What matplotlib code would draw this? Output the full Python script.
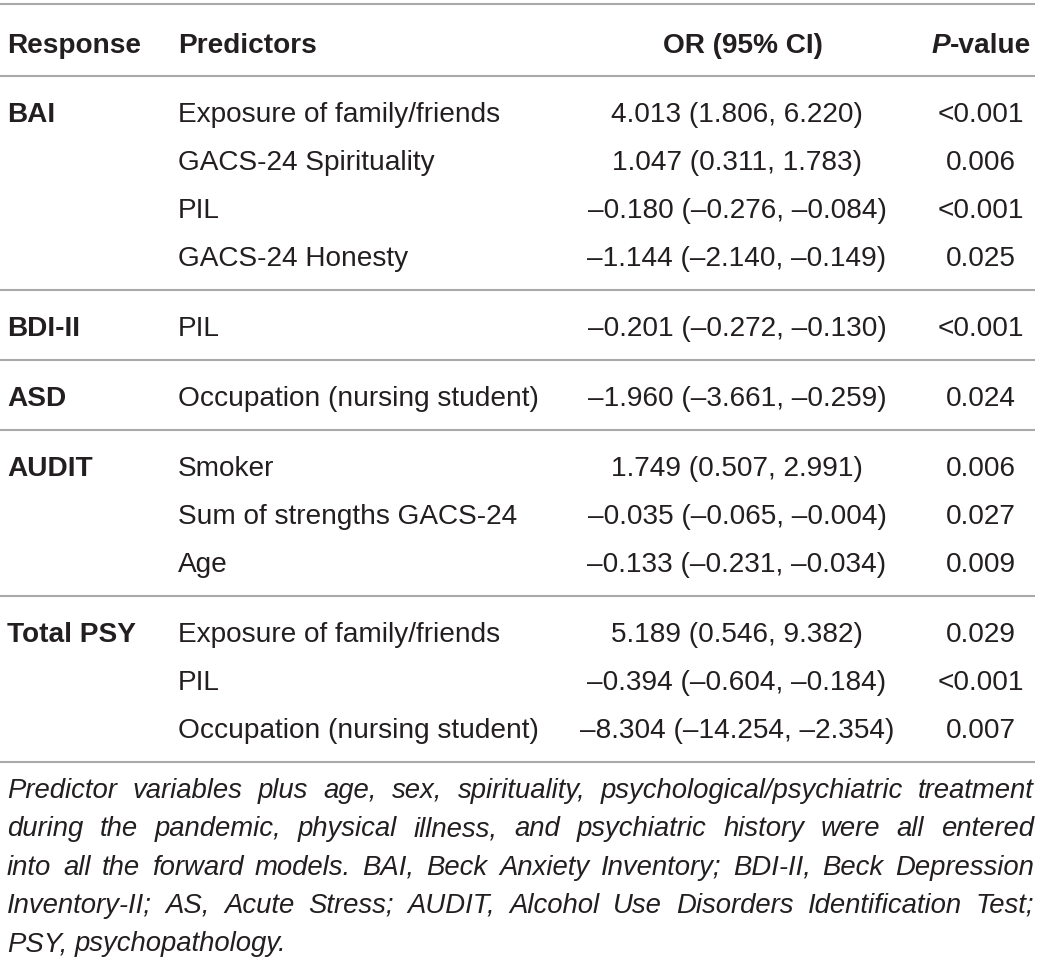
import matplotlib
matplotlib.use("Agg")
import matplotlib.pyplot as plt

# ---------------------------------------------------------------
# Table data
# ---------------------------------------------------------------
responses = ["BAI", "BDI-II", "ASD", "AUDIT", "Total PSY"]
group_sizes = [4, 1, 1, 3, 3]
predictors = [
    "Exposure of family/friends", "GACS-24 Spirituality", "PIL", "GACS-24 Honesty",
    "PIL",
    "Occupation (nursing student)",
    "Smoker", "Sum of strengths GACS-24", "Age",
    "Exposure of family/friends", "PIL", "Occupation (nursing student)",
]
or_est = [4.013, 1.047, -0.180, -1.144, -0.201, -1.960, 1.749, -0.035, -0.133, 5.189, -0.394, -8.304]
ci_low = [1.806, 0.311, -0.276, -2.140, -0.272, -3.661, 0.507, -0.065, -0.231, 0.546, -0.604, -14.254]
ci_high = [6.220, 1.783, -0.084, -0.149, -0.130, -0.259, 2.991, -0.004, -0.034, 9.382, -0.184, -2.354]
p_values = ["<0.001", "0.006", "<0.001", "0.025", "<0.001", "0.024",
            "0.006", "0.027", "0.009", "0.029", "<0.001", "0.007"]
footnote_lines = [
    "Predictor variables plus age, sex, spirituality, psychological/psychiatric treatment",
    "during the pandemic, physical illness, and psychiatric history were all entered",
    "into all the forward models. BAI, Beck Anxiety Inventory; BDI-II, Beck Depression",
    "Inventory-II; AS, Acute Stress; AUDIT, Alcohol Use Disorders Identification Test;",
    "PSY, psychopathology.",
]

# ---------------------------------------------------------------
# Style
# ---------------------------------------------------------------
plt.rcParams['font.family'] = ['Liberation Sans', 'DejaVu Sans']
txtCol = '#231f20'
ruleCol = '#a9a9a9'
fs = 20.2
fs_note = 19.8

W, H = 1041, 962
fig = plt.figure(figsize=(W / 100., H / 100.), dpi=100)
ax = fig.add_axes([0, 0, 1, 1])
ax.set_xlim(0, W)
ax.set_ylim(H, 0)
ax.axis('off')
renderer = fig.canvas.get_renderer()

def fmt(v):
    return ('%.3f' % v).replace('-', '\u2013')

def text_width(s, **kw):
    t = ax.text(0, 0, s, **kw)
    w = t.get_window_extent(renderer).width
    t.remove()
    return w

def rule(y):
    ax.plot([0, 1035], [y, y], color=ruleCol, lw=1.5, solid_capstyle='butt')

# column positions
x_resp = 7
x_pred = 178
x_or = 737
x_p = 981
cap_half = 10

# ---------------------------------------------------------------
# Header
# ---------------------------------------------------------------
rule(5)
yh = 43 + cap_half
ax.text(x_resp, yh, "Response", fontsize=fs, fontweight='bold', color=txtCol, va='baseline')
ax.text(x_pred, yh, "Predictors", fontsize=fs, fontweight='bold', color=txtCol, va='baseline')
ax.text(743, yh, "OR (95% CI)", fontsize=fs, fontweight='bold', color=txtCol, va='baseline', ha='center')
wP = text_width("P", fontsize=fs, fontweight='bold', fontstyle='italic')
wV = text_width("-value", fontsize=fs, fontweight='bold')
x0 = x_p - (wP + wV) / 2.
ax.text(x0, yh, "P", fontsize=fs, fontweight='bold', fontstyle='italic', color=txtCol, va='baseline')
ax.text(x0 + wP, yh, "-value", fontsize=fs, fontweight='bold', color=txtCol, va='baseline')
rule(77)

# ---------------------------------------------------------------
# Body
# ---------------------------------------------------------------
step = 48
pad = 35
y = 77
i = 0
for resp, n in zip(responses, group_sizes):
    y += pad
    for k in range(n):
        yb = y + cap_half
        if k == 0:
            ax.text(x_resp, yb, resp, fontsize=fs, fontweight='bold', color=txtCol, va='baseline')
        ax.text(x_pred, yb, predictors[i], fontsize=fs, color=txtCol, va='baseline')
        s = '%s (%s, %s)' % (fmt(or_est[i]), fmt(ci_low[i]), fmt(ci_high[i]))
        ax.text(x_or, yb, s, fontsize=fs, color=txtCol, va='baseline', ha='center')
        ax.text(x_p, yb, p_values[i], fontsize=fs, color=txtCol, va='baseline', ha='center')
        i += 1
        if k < n - 1:
            y += step
    y += pad
    rule(y)

# ---------------------------------------------------------------
# Footnote (justified)
# ---------------------------------------------------------------
left, right = 7, 1034
yb = y + 35
for j, line in enumerate(footnote_lines):
    words = line.split(' ')
    kw = dict(fontsize=fs_note, fontstyle='italic', color=txtCol, va='baseline')
    widths = [text_width(w_, **kw) for w_ in words]
    if j < len(footnote_lines) - 1:
        gap = (right - left - sum(widths)) / (len(words) - 1)
    else:
        gap = text_width('a b', **kw) - text_width('ab', **kw)
    x = left
    for w_, wd in zip(words, widths):
        ax.text(x, yb, w_, **kw)
        x += wd + gap
    yb += 38.3

fig.savefig('out.png', dpi=100)
